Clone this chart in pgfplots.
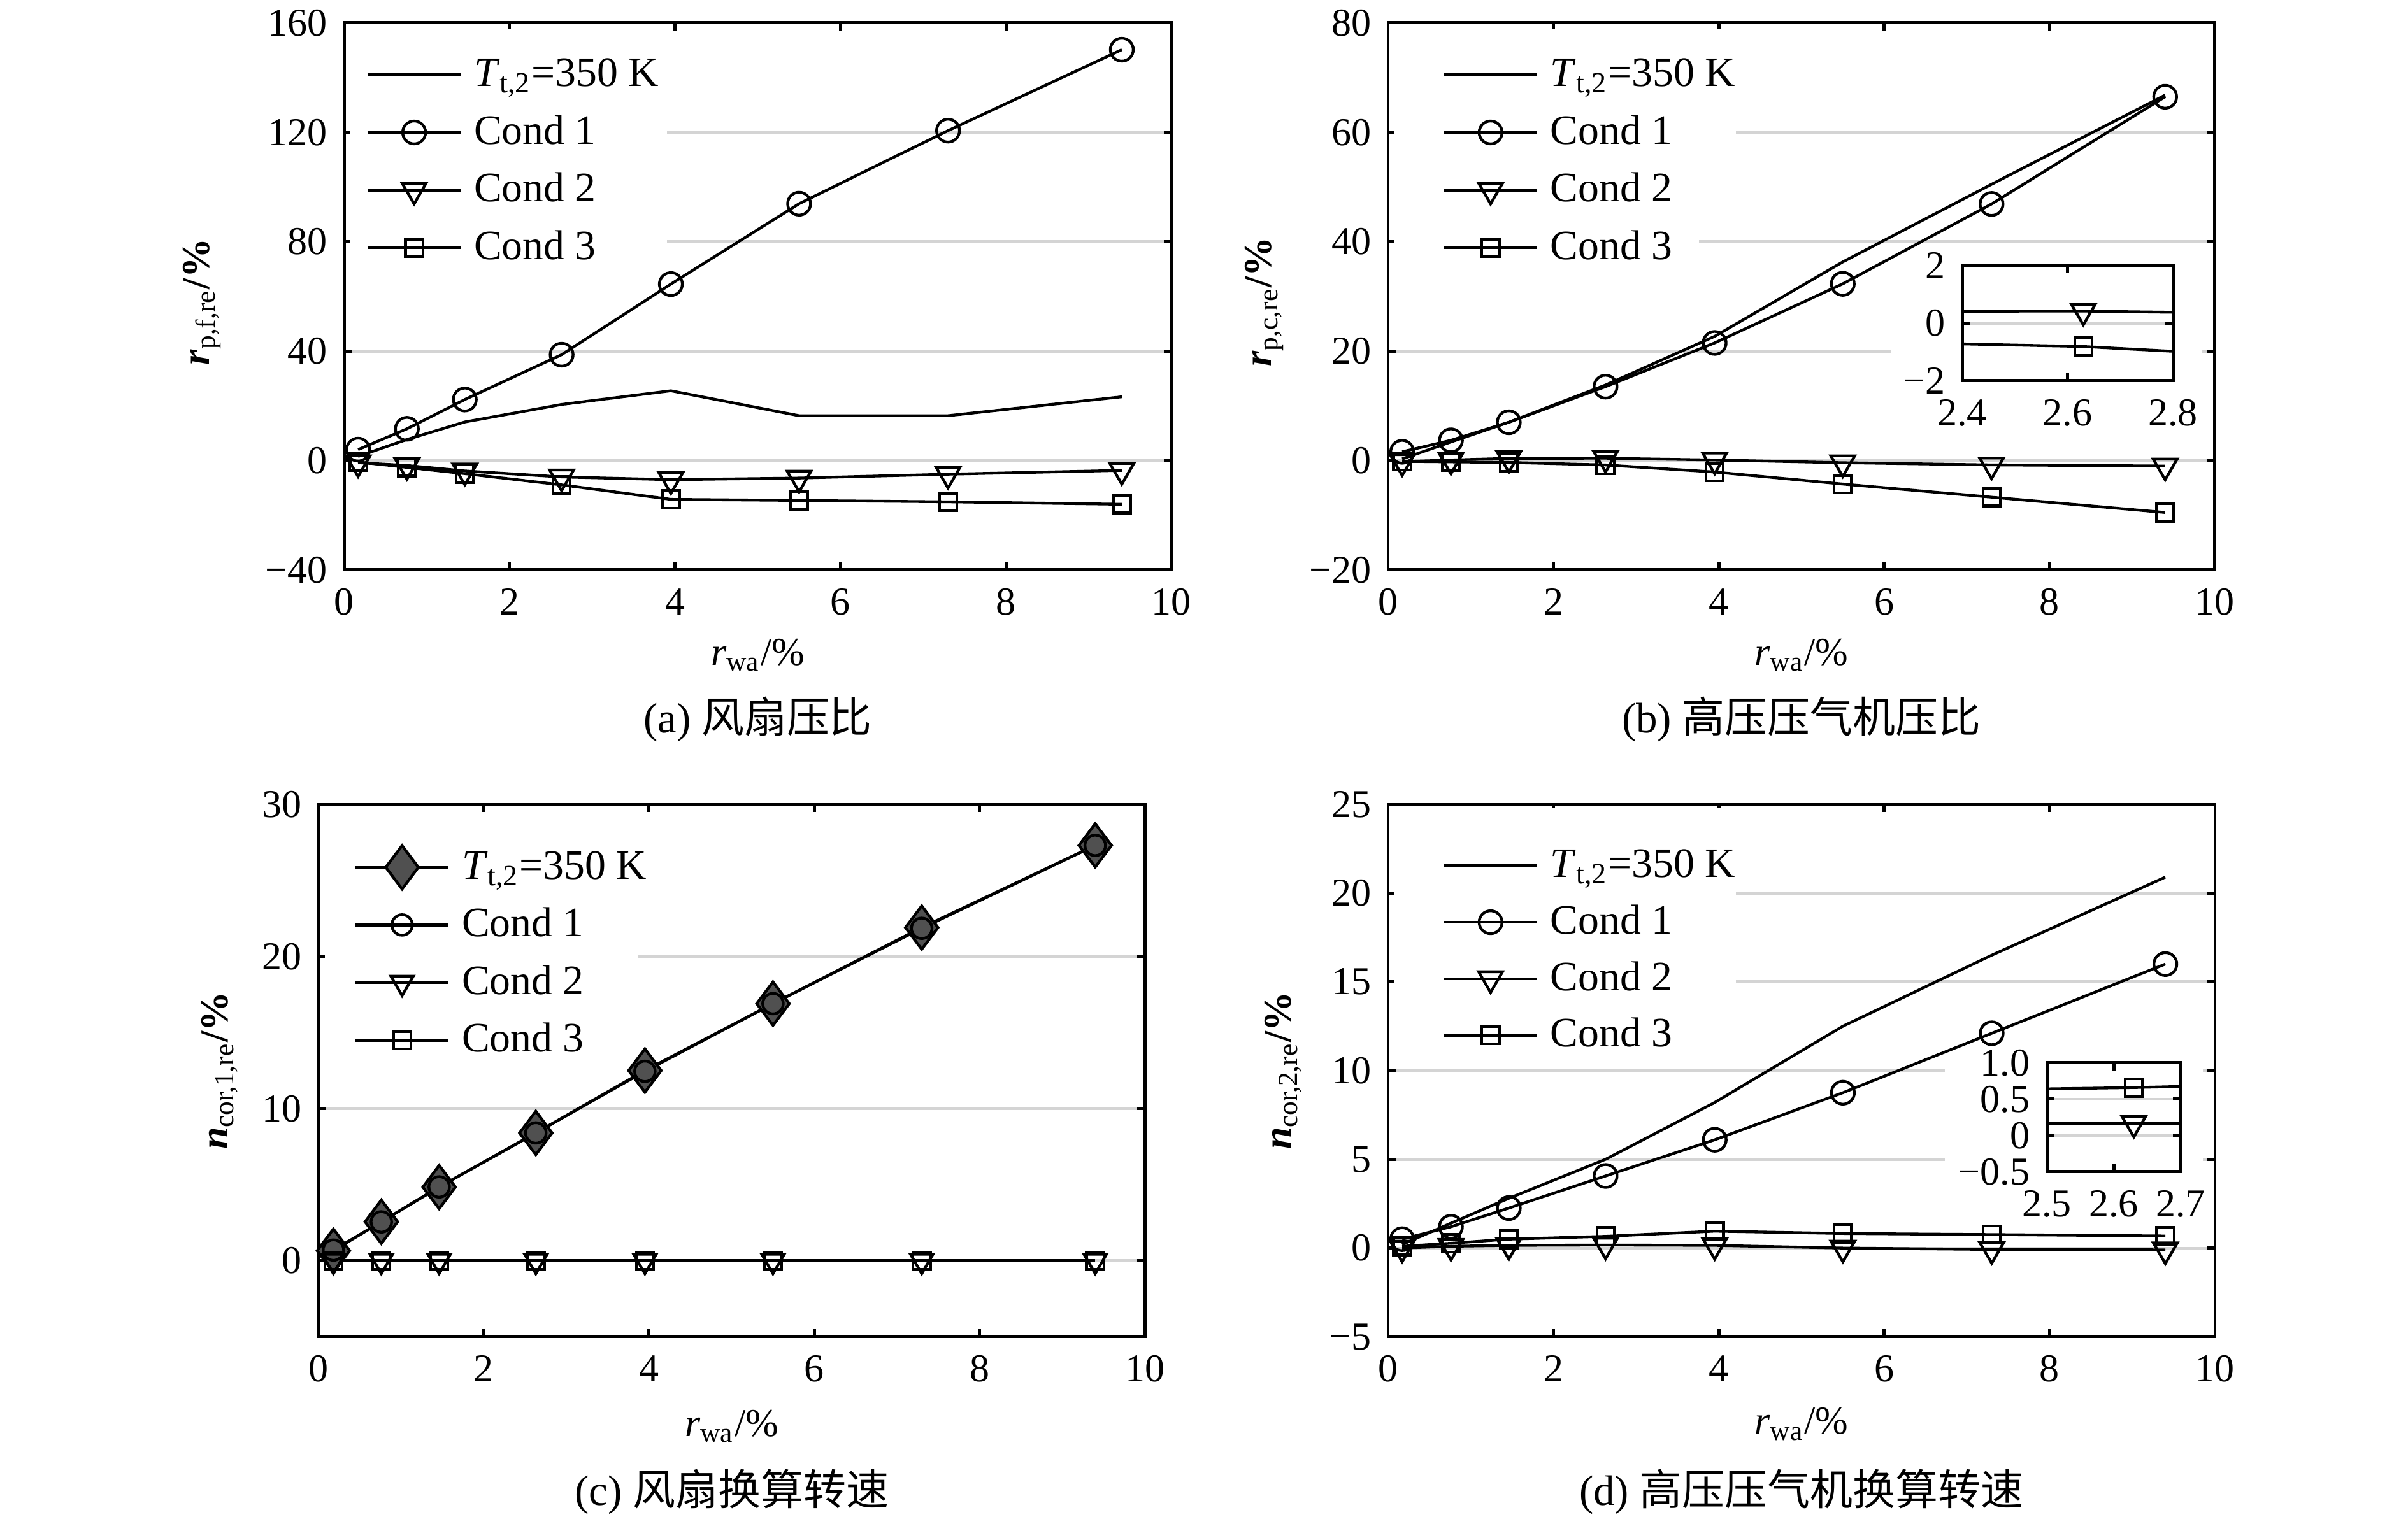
\documentclass[border=0pt]{standalone}
\usepackage{fontspec}
\setmainfont{Liberation Serif}
\newfontfamily\cjk{Noto Sans CJK SC}
\usepackage{pgfplots}
\pgfplotsset{compat=1.18}
\definecolor{gridgray}{RGB}{212,212,212}
\definecolor{diafill}{RGB}{80,80,80}
\pgfplotsset{
  common/.style={
    scale only axis,
    tick align=inside,
    major tick length=2pt,
    tick style={black, line width=0.8pt},
    axis line style={line width=0.8pt},
    ymajorgrids,
    grid style={gridgray, line width=0.7pt},
    tick label style={font=\fontsize{10}{12}\selectfont},
    yticklabel style={xshift=-0.8pt},
    xticklabel style={yshift=-1.2pt},
    every axis plot/.append style={line width=0.7pt, black},
  },
  mainax/.style={
    common,
    xmin=0, xmax=10,
    xtick={0,2,4,6,8,10},
    xticklabels={0,2,4,6,8,10},
    label style={font=\fontsize{10}{12}\selectfont},
    xlabel={\textit{r}\textsubscript{wa}/\%},
    legend cell align=left,
    legend style={draw=none, fill=none, font=\fontsize{10.6}{12}\selectfont,
      at={(axis description cs:0,1)}, anchor=north west,
      inner xsep=3pt, inner ysep=2pt, row sep=1.4pt,
      nodes={inner xsep=3pt, inner ysep=2pt, text height=7.4pt}},
    legend image code/.code={\draw[mark repeat=2,mark phase=2] plot coordinates {(0pt,0pt) (11.8pt,0pt) (23.6pt,0pt)};},
  },
  c1/.style={mark=o, mark size=2.9pt},
  c2/.style={mark=triangle, mark size=3.5pt, mark options={rotate=180}},
  c3/.style={mark=square, mark size=2.2pt},
}
\begin{document}
\begin{tikzpicture}
\useasboundingbox (0,0) rectangle (609.68pt,-384.19pt);
% ---------------- (a)
\begin{axis}[mainax, at={(87.10pt,-144.35pt)}, anchor=south west,
  width=209.5pt, height=138.55pt,
  ymin=-40, ymax=160, ytick={-40,0,40,80,120,160},
  yticklabels={−40,0,40,80,120,160},
  xlabel style={at={(axis description cs:0.5,0)}, yshift=-21.6pt, anchor=center},
  ylabel={\textbf{\textit{r}}\textsubscript{p,f,re}\textbf{/\%}},
  ylabel style={at={(axis description cs:-0.1717,0.49)}, anchor=center},
  legend style={xshift=2.4pt, yshift=-4.5pt, row sep=1.7pt}]
\fill[white] (axis cs:0.08,70) rectangle (axis cs:3.9,158);
\addplot[no marks] coordinates {(0.17,1.5) (0.76,7.7) (1.46,14.1) (2.63,20.5) (3.95,25.5) (5.5,16.4) (7.3,16.4) (9.4,23.3)};
\addlegendentry{\textit{T}\textsubscript{t,2}=350 K}
\addplot[c1] coordinates {(0.17,4) (0.76,11.6) (1.46,22.3) (2.63,38.7) (3.95,64.5) (5.5,93.9) (7.3,120.6) (9.4,150.2)};
\addlegendentry{Cond 1}
\addplot[c2] coordinates {(0.17,-0.8) (0.76,-1.8) (1.46,-3.8) (2.63,-6) (3.95,-7) (5.5,-6.4) (7.3,-5) (9.4,-3.6)};
\addlegendentry{Cond 2}
\addplot[c3] coordinates {(0.17,-0.5) (0.76,-2.5) (1.46,-4.8) (2.63,-8.9) (3.95,-14.2) (5.5,-14.6) (7.3,-15.1) (9.4,-16)};
\addlegendentry{Cond 3}
\end{axis}
\node[font=\fontsize{10.8}{13}\selectfont] at (191.85pt,-182.1pt) {(a) {\cjk 风扇压比}};
% ---------------- (b)
\begin{axis}[mainax, at={(351.45pt,-144.35pt)}, anchor=south west,
  width=209.3pt, height=138.55pt,
  ymin=-20, ymax=80, ytick={-20,0,20,40,60,80},
  yticklabels={−20,0,20,40,60,80},
  xlabel style={at={(axis description cs:0.5,0)}, yshift=-21.6pt, anchor=center},
  ylabel={\textbf{\textit{r}}\textsubscript{p,c,re}\textbf{/\%}},
  ylabel style={at={(axis description cs:-0.150,0.49)}, anchor=center},
  legend style={xshift=10.6pt, yshift=-4.5pt, row sep=1.7pt}]
\fill[white] (axis cs:0.08,50) rectangle (axis cs:4.21,79);
\fill[white] (axis cs:0.08,30) rectangle (axis cs:3.76,50);
\fill[white] (axis cs:6.08,4) rectangle (axis cs:9.85,38);
\addplot[no marks] coordinates {(0.17,0.3) (0.76,3.4) (1.46,7.0) (2.63,13.8) (3.95,22.7) (5.5,36.3) (7.3,50.5) (9.4,66.8)};
\addlegendentry{\textit{T}\textsubscript{t,2}=350 K}
\addplot[c1] coordinates {(0.17,1.6) (0.76,3.7) (1.46,7.0) (2.63,13.5) (3.95,21.5) (5.5,32.3) (7.3,46.9) (9.4,66.5)};
\addlegendentry{Cond 1}
\addplot[c2] coordinates {(0.17,-0.2) (0.76,0.1) (1.46,0.4) (2.63,0.42) (3.95,0.1) (5.5,-0.4) (7.3,-0.8) (9.4,-1.0)};
\addlegendentry{Cond 2}
\addplot[c3] coordinates {(0.17,-0.15) (0.76,-0.25) (1.46,-0.35) (2.63,-0.81) (3.95,-2.1) (5.5,-4.3) (7.3,-6.7) (9.4,-9.5)};
\addlegendentry{Cond 3}
\end{axis}
\node[font=\fontsize{10.8}{13}\selectfont] at (456.1pt,-182.1pt) {(b) {\cjk 高压压气机压比}};
% inset (b)
\begin{axis}[common, at={(496.77pt,-96.45pt)}, anchor=south west,
  width=53.39pt, height=29.19pt,
  axis background/.style={fill=white},
  xmin=2.4, xmax=2.8, ymin=-2, ymax=2,
  xtick={2.4,2.6,2.8}, xticklabels={2.4,2.6,2.8},
  ytick={-2,0,2}, yticklabels={−2,0,2}]
\addplot[c2] coordinates {(1.46,0.4) (2.63,0.42) (3.95,0.1)};
\addplot[c3] coordinates {(1.46,-0.35) (2.63,-0.81) (3.95,-2.1)};
\end{axis}
% ---------------- (c)
\begin{axis}[mainax, at={(80.65pt,-338.55pt)}, anchor=south west,
  width=209.2pt, height=134.84pt,
  ymin=-5, ymax=30, ytick={0,10,20,30},
  yticklabels={0,10,20,30},
  xlabel style={at={(axis description cs:0.5,0)}, yshift=-22.7pt, anchor=center},
  ylabel={\textbf{\textit{n}}\textsubscript{cor,1,re}\textbf{/\%}},
  ylabel style={at={(axis description cs:-0.1195,0.5)}, anchor=center},
  legend style={xshift=5.8pt, yshift=-7.3pt, row sep=1.7pt}]
\fill[white] (axis cs:0.08,15) rectangle (axis cs:3.86,29.5);
\addplot[mark=diamond*, mark size=5.5pt, mark options={fill=diafill, draw=black}] coordinates {(0.18,0.66) (0.76,2.56) (1.46,4.84) (2.63,8.4) (3.95,12.5) (5.5,16.9) (7.3,21.9) (9.4,27.3)};
\addlegendentry{\textit{T}\textsubscript{t,2}=350 K}
\addplot[c1, mark size=2.6pt] coordinates {(0.18,0.7) (0.76,2.55) (1.46,4.85) (2.63,8.4) (3.95,12.45) (5.5,16.9) (7.3,21.85) (9.4,27.3)};
\addlegendentry{Cond 1}
\addplot[c2, mark size=3.3pt] coordinates {(0.18,0) (0.76,0) (1.46,0) (2.63,0) (3.95,0) (5.5,0) (7.3,0) (9.4,0)};
\addlegendentry{Cond 2}
\addplot[c3] coordinates {(0.18,0) (0.76,0) (1.46,0) (2.63,0) (3.95,0) (5.5,0) (7.3,0) (9.4,0)};
\addlegendentry{Cond 3}
\end{axis}
\node[font=\fontsize{10.8}{13}\selectfont] at (185.25pt,-377.75pt) {(c) {\cjk 风扇换算转速}};
% ---------------- (d)
\begin{axis}[mainax, at={(351.45pt,-338.55pt)}, anchor=south west,
  width=209.35pt, height=134.84pt,
  ymin=-5, ymax=25, ytick={-5,0,5,10,15,20,25},
  yticklabels={−5,0,5,10,15,20,25},
  xlabel style={at={(axis description cs:0.5,0)}, yshift=-22.1pt, anchor=center},
  ylabel={\textbf{\textit{n}}\textsubscript{cor,2,re}\textbf{/\%}},
  ylabel style={at={(axis description cs:-0.127,0.5)}, anchor=center},
  legend style={xshift=10.6pt, yshift=-6.9pt}]
\fill[white] (axis cs:0.08,12.5) rectangle (axis cs:4.21,24.8);
\fill[white] (axis cs:6.73,1.1) rectangle (axis cs:9.85,11.1);
\addplot[no marks] coordinates {(0.17,0.2) (0.76,1.4) (1.46,2.8) (2.63,5.0) (3.95,8.2) (5.5,12.5) (7.3,16.5) (9.4,20.9)};
\addlegendentry{\textit{T}\textsubscript{t,2}=350 K}
\addplot[c1] coordinates {(0.17,0.5) (0.76,1.2) (1.46,2.25) (2.63,4.06) (3.95,6.1) (5.5,8.75) (7.3,12.1) (9.4,16.0)};
\addlegendentry{Cond 1}
\addplot[c2] coordinates {(0.17,0.0) (0.76,0.1) (1.46,0.15) (2.63,0.17) (3.95,0.15) (5.5,0.0) (7.3,-0.08) (9.4,-0.1)};
\addlegendentry{Cond 2}
\addplot[c3] coordinates {(0.17,0.1) (0.76,0.27) (1.46,0.5) (2.63,0.66) (3.95,0.95) (5.5,0.82) (7.3,0.76) (9.4,0.68)};
\addlegendentry{Cond 3}
\end{axis}
\node[font=\fontsize{10.8}{13}\selectfont] at (456.1pt,-377.75pt) {(d) {\cjk 高压压气机换算转速}};
% inset (d)
\begin{axis}[common, at={(518.23pt,-296.77pt)}, anchor=south west,
  width=33.87pt, height=27.58pt,
  axis background/.style={fill=white},
  xmin=2.5, xmax=2.7, ymin=-0.5, ymax=1.0,
  xtick={2.5,2.6,2.7}, xticklabels={2.5,2.6,2.7},
  ytick={-0.5,0,0.5,1}, yticklabels={−0.5,0,0.5,1.0}]
\addplot[c2] coordinates {(1.46,0.15) (2.63,0.17) (3.95,0.15)};
\addplot[c3] coordinates {(1.46,0.5) (2.63,0.66) (3.95,0.95)};
\end{axis}
\end{tikzpicture}
\end{document}
